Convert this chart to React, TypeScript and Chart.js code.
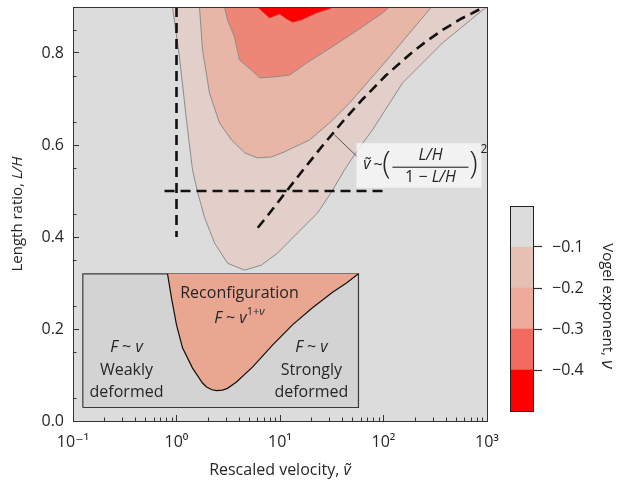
import React, { useEffect, useRef } from 'react';
import { Chart, registerables } from 'chart.js';
Chart.register(...registerables);

const FONT = "'Open Sans', 'DejaVu Sans', sans-serif";
const TXT = '#262626';

// ---- axis ticks ----
const X_TICKS = [0.1, 1, 10, 100, 1000];
const X_TICK_LABELS = ['10⁻¹', '10⁰', '10¹', '10²', '10³'];
const X_MINOR_DECADES = [0.1, 1, 10, 100];
const X_MINOR_MULT = [2, 3, 4, 5, 6, 7, 8, 9];
const Y_TICKS = [0, 0.2, 0.4, 0.6, 0.8];
const Y_MINOR = [0.05, 0.15, 0.25, 0.35, 0.45, 0.55, 0.65, 0.75, 0.85];

// ---- contour boundaries (x = rescaled velocity, y = L/H) ----
const OUTER = [[0.915, 0.9], [1.069, 0.791], [1.249, 0.654], [1.428, 0.546], [1.596, 0.498], [1.864, 0.443], [2.329, 0.387], [3.111, 0.343], [4.54, 0.328], [6.63, 0.339], [9.46, 0.365], [14.8, 0.409], [23.0, 0.452], [31.5, 0.498], [42.0, 0.546], [54.8, 0.585], [78.3, 0.633], [153, 0.735], [372, 0.822], [905, 0.893], [1000, 0.9]];
const SECOND = [[1.668, 0.9], [1.783, 0.807], [2.084, 0.713], [2.6, 0.648], [3.4, 0.611], [4.54, 0.583], [6.06, 0.572], [8.28, 0.574], [11.0, 0.585], [19.3, 0.611], [30.1, 0.648], [46.9, 0.691], [73.2, 0.741], [114, 0.791], [178, 0.843], [260, 0.887], [291, 0.9]];
const THIRD = [[2.91, 0.9], [3.11, 0.872], [3.63, 0.835], [4.06, 0.785], [5.3, 0.763], [6.34, 0.746], [8.85, 0.748], [12.4, 0.752], [18.0, 0.778], [25.7, 0.8], [40.2, 0.828], [62.7, 0.857], [97.8, 0.887], [114, 0.9]];
const FOURTH = [[6.06, 0.9], [7.92, 0.876], [9.89, 0.885], [11.6, 0.874], [13.2, 0.867], [16.1, 0.872], [22.5, 0.887], [30.1, 0.896], [32.9, 0.9]];
const CONTOUR_COLORS = ['#e2cfca', '#e8b6a6', '#ee8677', '#ff0000'];

// ---- guide lines ----
const VERT = [[1, 0.9], [1, 0.4]];
const HORIZ = [[0.766, 0.5], [102, 0.5]];
const DIAG = [[6.1, 0.42], [7.8, 0.45], [11.6, 0.5], [17.3, 0.55], [26.1, 0.6], [40.0, 0.65], [63.2, 0.7], [104, 0.75], [186, 0.8], [258, 0.825], [372, 0.85], [568, 0.875], [940, 0.9]];
const LEADER = [[33.6, 0.622], [56.1, 0.574]];
const FORMULA_BOX_X = [54.8, 885];
const FORMULA_BOX_Y = [0.507, 0.604];

// ---- inset schematic ----
const INSET_X = [0.1244, 57.3];
const INSET_Y = [0.0293, 0.32];
const INSET_CURVE = [[0.819, 0.32], [0.895, 0.267], [1.0, 0.209], [1.143, 0.159], [1.428, 0.115], [1.783, 0.0826], [1.95, 0.074], [2.2, 0.068], [2.44, 0.066], [2.78, 0.067], [3.11, 0.071], [3.8, 0.0848], [5.42, 0.117], [8.47, 0.165], [13.2, 0.209], [20.6, 0.246], [32.2, 0.28], [43.9, 0.3], [57.3, 0.32]];
const INSET_LABELS = [
  { x: 4.06, y: 0.278, runs: [{ t: 'Reconfiguration' }] },
  { x: 4.06, y: 0.222, runs: [{ t: 'F', i: true }, { t: ' ~ ' }, { t: 'v', i: true }, { t: '1+', s: 11, dy: -7 }, { t: 'ν', i: true, s: 11, dy: -7 }] },
  { x: 0.329, y: 0.161, runs: [{ t: 'F', i: true }, { t: ' ~ ' }, { t: 'v', i: true }] },
  { x: 0.329, y: 0.111, runs: [{ t: 'Weakly' }] },
  { x: 0.329, y: 0.063, runs: [{ t: 'deformed' }] },
  { x: 20.1, y: 0.161, runs: [{ t: 'F', i: true }, { t: ' ~ ' }, { t: 'v', i: true }] },
  { x: 20.1, y: 0.111, runs: [{ t: 'Strongly' }] },
  { x: 20.1, y: 0.063, runs: [{ t: 'deformed' }] },
];

// ---- colour bar ----
const CB_LOWS = [-0.5, -0.4, -0.3, -0.2, -0.1];
const CB_HIGHS = [-0.4, -0.3, -0.2, -0.1, 0];
const CB_COLORS = ['#ff0000', '#f26b5e', '#ebab98', '#e5c1b3', '#dcdcdc'];
const CB_TICKS = [-0.4, -0.3, -0.2, -0.1];

type Run = { t: string; i?: boolean; s?: number; dy?: number; w?: number };

function drawRuns(ctx: CanvasRenderingContext2D, runs: Run[], cx: number, cy: number, base: number) {
  const fontOf = (r: Run) => `${r.i ? 'italic ' : ''}${r.w ? r.w + ' ' : ''}${r.s || base}px ${FONT}`;
  let total = 0;
  const widths = runs.map((r) => {
    ctx.font = fontOf(r);
    const w = ctx.measureText(r.t).width;
    total += w;
    return w;
  });
  let x = cx - total / 2;
  ctx.textAlign = 'left';
  ctx.textBaseline = 'middle';
  runs.forEach((r, k) => {
    ctx.font = fontOf(r);
    ctx.fillText(r.t, x, cy + (r.dy || 0));
    x += widths[k];
  });
}

const pts = (a: number[][]) => a.map(([x, y]) => ({ x, y }));

const lineBase = { pointRadius: 0, tension: 0, pointHoverRadius: 0 };

const mainPlugin = {
  id: 'mainDecor',
  beforeDraw(chart: any) {
    const { ctx, chartArea: a } = chart;
    ctx.save();
    ctx.fillStyle = '#ffffff';
    ctx.fillRect(0, 0, chart.width, chart.height);
    ctx.fillStyle = '#dcdcdc';
    ctx.fillRect(a.left, a.top, a.right - a.left, a.bottom - a.top);
    ctx.restore();
  },
  afterDatasetsDraw(chart: any) {
    const { ctx } = chart;
    const xs = chart.scales.x;
    const ys = chart.scales.y;
    ctx.save();
    // formula box
    const bx0 = xs.getPixelForValue(FORMULA_BOX_X[0]);
    const bx1 = xs.getPixelForValue(FORMULA_BOX_X[1]);
    const by0 = ys.getPixelForValue(FORMULA_BOX_Y[1]);
    const by1 = ys.getPixelForValue(FORMULA_BOX_Y[0]);
    ctx.fillStyle = 'rgba(247,247,247,0.8)';
    ctx.fillRect(bx0, by0, bx1 - bx0, by1 - by0);
    ctx.fillStyle = TXT;
    drawRuns(ctx, [{ t: 'ṽ', i: true }], bx0 + 10.5, by0 + 21, 16);
    drawRuns(ctx, [{ t: '~' }], bx0 + 21.5, by0 + 22, 16);
    drawRuns(ctx, [{ t: '(', w: 300, s: 31 }], bx0 + 30, by0 + 21, 31);
    drawRuns(ctx, [{ t: ')', w: 300, s: 31 }], bx0 + 117, by0 + 21, 31);
    drawRuns(ctx, [{ t: 'L/H', i: true }], bx0 + 74, by0 + 12.5, 16);
    ctx.fillRect(bx0 + 36, by0 + 23.5, 76, 1.1);
    drawRuns(ctx, [{ t: '1 − ' }, { t: 'L/H', i: true }], bx0 + 74, by0 + 34.5, 16);
    drawRuns(ctx, [{ t: '2' }], bx0 + 127.5, by0 + 6, 12);
    // inset labels
    ctx.fillStyle = TXT;
    INSET_LABELS.forEach((l) => {
      drawRuns(ctx, l.runs, xs.getPixelForValue(l.x), ys.getPixelForValue(l.y), 16);
    });
    ctx.restore();
  },
  afterDraw(chart: any) {
    const { ctx, chartArea: a } = chart;
    const xs = chart.scales.x;
    const ys = chart.scales.y;
    ctx.save();
    ctx.strokeStyle = '#333';
    ctx.lineWidth = 1;
    ctx.beginPath();
    X_MINOR_DECADES.forEach((d) => {
      X_MINOR_MULT.forEach((m) => {
        const px = Math.round(xs.getPixelForValue(d * m)) + 0.5;
        ctx.moveTo(px, a.bottom);
        ctx.lineTo(px, a.bottom - 3.5);
      });
    });
    Y_MINOR.forEach((v) => {
      const py = Math.round(ys.getPixelForValue(v)) + 0.5;
      ctx.moveTo(a.left, py);
      ctx.lineTo(a.left + 3.5, py);
    });
    ctx.stroke();
    ctx.strokeStyle = '#333';
    ctx.strokeRect(Math.round(a.left) + 0.5, Math.round(a.top) + 0.5, Math.round(a.right - a.left), Math.round(a.bottom - a.top));
    // axis titles
    ctx.fillStyle = TXT;
    ctx.save();
    ctx.translate(18, (a.top + a.bottom) / 2);
    ctx.rotate(-Math.PI / 2);
    drawRuns(ctx, [{ t: 'Length ratio, ' }, { t: 'L/H', i: true }], 0, 0, 15);
    ctx.restore();
    drawRuns(ctx, [{ t: 'Rescaled velocity, ' }, { t: 'ṽ', i: true }], (a.left + a.right) / 2, 470, 16);
    ctx.restore();
  },
};

const cbPlugin = {
  id: 'cbDecor',
  afterDraw(chart: any) {
    const { ctx, chartArea: a } = chart;
    ctx.save();
    ctx.strokeStyle = '#222';
    ctx.lineWidth = 1;
    ctx.strokeRect(Math.round(a.left) + 0.5, Math.round(a.top) + 0.5, Math.round(a.right - a.left) - 1, Math.round(a.bottom - a.top));
    ctx.fillStyle = TXT;
    ctx.translate(107, 110);
    ctx.rotate(Math.PI / 2);
    drawRuns(ctx, [{ t: 'Vogel exponent, ' }, { t: 'ν', i: true, s: 18 }], 0, 0, 15);
    ctx.restore();
  },
};

export default function App() {
  const mainRef = useRef<HTMLCanvasElement>(null);
  const cbRef = useRef<HTMLCanvasElement>(null);

  useEffect(() => {
    const dashed = { ...lineBase, borderColor: '#111', borderWidth: 2.6, borderDash: [10, 6], fill: false, borderCapStyle: 'butt' };
    const contour = (d: number[][], c: string) => ({ ...lineBase, data: pts(d), borderColor: '#8c8c8c', borderWidth: 1, backgroundColor: c, fill: 'end' });
    const datasets: any[] = [
      { ...lineBase, label: 'inset curve', data: pts(INSET_CURVE), borderColor: '#111', borderWidth: 1.2, backgroundColor: '#e9a690', fill: { value: INSET_Y[1] } },
      { ...lineBase, label: 'inset frame', data: pts([[INSET_X[0], INSET_Y[0]], [INSET_X[0], INSET_Y[1]], [INSET_X[1], INSET_Y[1]], [INSET_X[1], INSET_Y[0]], [INSET_X[0], INSET_Y[0]]]), borderColor: '#3a3a3a', borderWidth: 1.2, fill: false },
      { ...lineBase, label: 'inset bg', data: pts([[INSET_X[0], INSET_Y[1]], [INSET_X[1], INSET_Y[1]]]), borderWidth: 0, borderColor: 'rgba(0,0,0,0)', backgroundColor: '#d3d3d3', fill: { value: INSET_Y[0] } },
      { ...lineBase, label: 'leader', data: pts(LEADER), borderColor: '#555', borderWidth: 1, fill: false },
      { ...dashed, label: 'diag', data: pts(DIAG) },
      { ...dashed, label: 'horiz', data: pts(HORIZ) },
      { ...dashed, label: 'vert', data: pts(VERT) },
      { ...contour(FOURTH, CONTOUR_COLORS[3]), borderColor: '#d33', borderWidth: 0.6 },
      contour(THIRD, CONTOUR_COLORS[2]),
      contour(SECOND, CONTOUR_COLORS[1]),
      contour(OUTER, CONTOUR_COLORS[0]),
    ];

    const main = new Chart(mainRef.current as HTMLCanvasElement, {
      type: 'line',
      data: { datasets },
      plugins: [mainPlugin],
      options: {
        animation: false,
        responsive: false,
        events: [],
        layout: { padding: { left: 0, top: 7, right: 134, bottom: 0 } },
        plugins: { legend: { display: false }, tooltip: { enabled: false } },
        scales: {
          x: {
            type: 'logarithmic',
            min: 0.1,
            max: 1000,
            z: 1,
            afterBuildTicks: (s: any) => { s.ticks = X_TICKS.map((v) => ({ value: v, major: true })); },
            afterFit: (s: any) => { s.height = 66; s.paddingLeft = 0; s.paddingRight = 0; },
            grid: { drawOnChartArea: false, tickLength: -6, tickColor: '#333', tickWidth: 1 },
            border: { display: true, color: '#333' },
            ticks: {
              autoSkip: false, maxRotation: 0, padding: 18, color: TXT,
              font: { family: FONT, size: 16 },
              callback: (v: any) => { const k = X_TICKS.findIndex((t) => Math.abs(t - Number(v)) < 1e-9 * Math.max(1, t)); return k >= 0 ? X_TICK_LABELS[k] : ''; },
            },
          },
          y: {
            type: 'linear',
            min: 0,
            max: 0.9,
            z: 1,
            afterBuildTicks: (s: any) => { s.ticks = Y_TICKS.map((v) => ({ value: v })); },
            afterFit: (s: any) => { s.width = 73; s.paddingTop = 0; s.paddingBottom = 0; },
            grid: { drawOnChartArea: false, tickLength: -6, tickColor: '#333', tickWidth: 1 },
            border: { display: true, color: '#333' },
            ticks: { padding: 15, color: TXT, font: { family: FONT, size: 16 }, callback: (v: any) => Number(v).toFixed(1) },
          },
        },
      } as any,
    });

    const cb = new Chart(cbRef.current as HTMLCanvasElement, {
      type: 'bar',
      data: {
        labels: [''],
        datasets: CB_LOWS.map((lo, k) => ({
          data: [[lo, CB_HIGHS[k]]] as any,
          backgroundColor: CB_COLORS[k],
          borderWidth: 0,
          grouped: false,
          barPercentage: 1,
          categoryPercentage: 1,
        })),
      },
      plugins: [cbPlugin],
      options: {
        animation: false,
        responsive: false,
        events: [],
        layout: { padding: { left: 10, top: 10, bottom: 15, right: 0 } },
        plugins: { legend: { display: false }, tooltip: { enabled: false } },
        scales: {
          x: { display: false },
          y: {
            position: 'right',
            min: -0.5,
            max: 0,
            afterBuildTicks: (s: any) => { s.ticks = CB_TICKS.map((v) => ({ value: v })); },
            afterFit: (s: any) => { s.width = 87; s.paddingTop = 0; s.paddingBottom = 0; },
            grid: { drawOnChartArea: false, tickLength: 8, tickColor: '#333', tickWidth: 1.2 },
            border: { display: false },
            ticks: { padding: 10, color: TXT, font: { family: FONT, size: 16 }, callback: (v: any) => '−' + Math.abs(Number(v)).toFixed(1) },
          },
        },
      } as any,
    });

    return () => { main.destroy(); cb.destroy(); };
  }, []);

  return (
    <div style={{ position: 'absolute', left: 0, top: 0, width: 621, height: 487, background: '#fff' }}>
      <canvas ref={mainRef} width={621} height={487} style={{ position: 'absolute', left: 0, top: 0, width: 621, height: 487 }} />
      <canvas ref={cbRef} width={121} height={230} style={{ position: 'absolute', left: 500, top: 196, width: 121, height: 230 }} />
    </div>
  );
}
